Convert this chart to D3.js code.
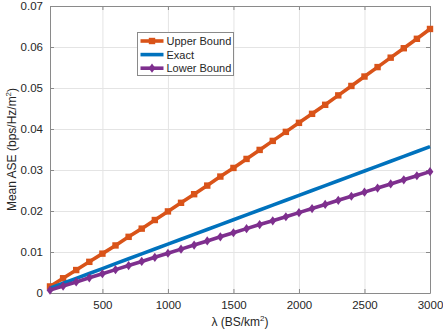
<!DOCTYPE html>
<html>
<head>
<meta charset="utf-8">
<script src="https://cdn.jsdelivr.net/npm/d3@7"></script>
<style>
  body { margin: 0; background: #fff; }
  svg { display: block; font-family: "Liberation Sans", Arial, sans-serif; }
</style>
</head>
<body>
<script>
// lambda values (BS/km^2)
var lambdas = [100, 200, 300, 400, 500, 600, 700, 800, 900, 1000,
               1100, 1200, 1300, 1400, 1500, 1600, 1700, 1800, 1900, 2000,
               2100, 2200, 2300, 2400, 2500, 2600, 2700, 2800, 2900, 3000];
var upperBound = [0.0016, 0.0036, 0.0056, 0.0076, 0.0096, 0.0116, 0.0137, 0.0157, 0.0178, 0.0199,
                  0.0220, 0.0241, 0.0262, 0.0284, 0.0305, 0.0327, 0.0349, 0.0371, 0.0393, 0.0415,
                  0.0437, 0.0459, 0.0482, 0.0505, 0.0528, 0.0551, 0.0574, 0.0597, 0.0620, 0.0644];
var exact = [0.00120, 0.00239, 0.00358, 0.00477, 0.00596, 0.00715, 0.00834, 0.00953, 0.01072, 0.01191,
             0.01310, 0.01429, 0.01548, 0.01667, 0.01786, 0.01905, 0.02024, 0.02143, 0.02262, 0.02381,
             0.02500, 0.02619, 0.02738, 0.02857, 0.02976, 0.03095, 0.03214, 0.03333, 0.03452, 0.03571];
var lowerBound = [0.0007, 0.0017, 0.0027, 0.0037, 0.0047, 0.0057, 0.0067, 0.0077, 0.0087, 0.0097,
                  0.0107, 0.0117, 0.0127, 0.0137, 0.0147, 0.0157, 0.0167, 0.0176, 0.0186, 0.0196,
                  0.0206, 0.0216, 0.0226, 0.0236, 0.0246, 0.0256, 0.0266, 0.0276, 0.0286, 0.0296];
var xTicks = [500, 1000, 1500, 2000, 2500, 3000];
var yTicks = [0, 0.01, 0.02, 0.03, 0.04, 0.05, 0.06, 0.07];
var seriesNames = ['Upper Bound', 'Exact', 'Lower Bound'];

var width = 443, height = 332;
var margin = {top: 6, right: 13, bottom: 39, left: 50};
var innerW = width - margin.left - margin.right;
var innerH = height - margin.top - margin.bottom;

var colors = ['#D95319', '#0072BD', '#7E2F8E'];
var allSeries = [upperBound, exact, lowerBound];
var markers = ['square', null, 'diamond'];

var svg = d3.select('body').append('svg')
    .attr('width', width)
    .attr('height', height);

var xScale = d3.scaleLinear().domain([100, 3000]).range([0, innerW]);
var yScale = d3.scaleLinear().domain([0, 0.07]).range([innerH, 0]);

var g = svg.append('g').attr('transform', `translate(${margin.left},${margin.top})`);

// grid
g.selectAll('.vgrid').data(xTicks).enter().append('line')
    .attr('x1', d => xScale(d) + 0.5).attr('x2', d => xScale(d) + 0.5)
    .attr('y1', 0).attr('y2', innerH)
    .attr('stroke', '#e4e4e4').attr('stroke-width', 1);
g.selectAll('.hgrid').data(yTicks).enter().append('line')
    .attr('y1', d => Math.round(yScale(d)) + 0.5).attr('y2', d => Math.round(yScale(d)) + 0.5)
    .attr('x1', 0).attr('x2', innerW)
    .attr('stroke', '#e4e4e4').attr('stroke-width', 1);

// axes (ticks pointing inward)
var xAxis = d3.axisBottom(xScale).tickValues(xTicks).tickSize(-4).tickSizeOuter(0).tickPadding(8)
    .tickFormat(d3.format('d'));
var yAxis = d3.axisLeft(yScale).tickValues(yTicks).tickSize(-4).tickSizeOuter(0).tickPadding(7)
    .tickFormat(d => d === 0 ? '0' : d3.format('.2f')(d));
var xTop = d3.axisTop(xScale).tickValues(xTicks).tickSize(-4).tickSizeOuter(0).tickFormat('');
var yRight = d3.axisRight(yScale).tickValues(yTicks).tickSize(-4).tickSizeOuter(0).tickFormat('');

function styleAxis(sel) {
  sel.selectAll('path').attr('stroke', '#8a8a8a');
  sel.selectAll('line').attr('stroke', '#8a8a8a');
  sel.selectAll('text').attr('fill', '#262626').style('font-size', '11.5px')
     .style('font-family', '"Liberation Sans", Arial, sans-serif');
}
g.append('g').attr('transform', `translate(0,${innerH})`).call(xAxis).call(styleAxis);
g.append('g').call(yAxis).call(styleAxis);
g.append('g').call(xTop).call(styleAxis);
g.append('g').attr('transform', `translate(${innerW},0)`).call(yRight).call(styleAxis);

// lines
var line = d3.line().x((d, i) => xScale(lambdas[i])).y(d => yScale(d));
var diamond = 'M0,-4.6L3.4,0L0,4.6L-3.4,0Z';

allSeries.forEach(function(s, k) {
  g.append('path').datum(s)
      .attr('d', line)
      .attr('fill', 'none')
      .attr('stroke', colors[k])
      .attr('stroke-width', 3.6)
      .attr('stroke-linejoin', 'round');
  if (markers[k] === 'square') {
    g.selectAll('.sq' + k).data(s).enter().append('rect')
        .attr('x', (d, i) => xScale(lambdas[i]) - 3.2)
        .attr('y', d => yScale(d) - 3.2)
        .attr('width', 6.4).attr('height', 6.4)
        .attr('fill', colors[k]);
  } else if (markers[k] === 'diamond') {
    g.selectAll('.dm' + k).data(s).enter().append('path')
        .attr('d', diamond)
        .attr('transform', (d, i) => `translate(${xScale(lambdas[i])},${yScale(d)})`)
        .attr('fill', colors[k]);
  }
});

// legend
var lg = svg.append('g').attr('transform', 'translate(137.5,32.5)');
lg.append('rect').attr('width', 96).attr('height', 43)
    .attr('fill', '#fff').attr('stroke', '#8a8a8a').attr('stroke-width', 1);
seriesNames.forEach(function(name, k) {
  var yy = 8.5 + k * 13.6;
  lg.append('line').attr('x1', 3).attr('x2', 26).attr('y1', yy).attr('y2', yy)
      .attr('stroke', colors[k]).attr('stroke-width', 3.6);
  if (markers[k] === 'square') {
    lg.append('rect').attr('x', 14.5 - 3.2).attr('y', yy - 3.2).attr('width', 6.4).attr('height', 6.4)
        .attr('fill', colors[k]);
  } else if (markers[k] === 'diamond') {
    lg.append('path').attr('d', diamond).attr('transform', `translate(14.5,${yy})`).attr('fill', colors[k]);
  }
  lg.append('text').attr('x', 29).attr('y', yy + 4).text(name)
      .attr('fill', '#262626').style('font-size', '11px');
});

// axis labels
svg.append('text')
    .attr('x', margin.left + innerW / 2).attr('y', 326)
    .attr('text-anchor', 'middle').attr('fill', '#262626').style('font-size', '12px')
    .html('λ (BS/km<tspan dy="-5" font-size="8px">2</tspan><tspan dy="5">)</tspan>');
svg.append('text')
    .attr('transform', `translate(16,${margin.top + innerH / 2}) rotate(-90)`)
    .attr('text-anchor', 'middle').attr('fill', '#262626').style('font-size', '12px')
    .html('Mean ASE (bps/Hz/m<tspan dy="-5" font-size="8px">2</tspan><tspan dy="5">)</tspan>');
</script>
</body>
</html>
